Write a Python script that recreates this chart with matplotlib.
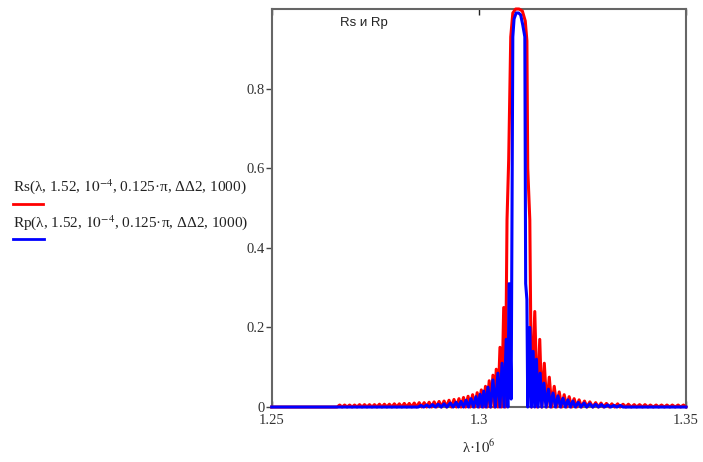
import matplotlib
matplotlib.use("Agg")
import matplotlib.pyplot as plt
from matplotlib.lines import Line2D

plt.rcParams['font.family'] = ['Liberation Serif', 'DejaVu Serif']
plt.rcParams['mathtext.fontset'] = 'stix'

# wavelength (x 10^6) and reflectance values
rs_lam = [1.2500, 1.2658, 1.2664, 1.2670, 1.2676, 1.2682, 1.2688, 1.2694, 1.2700, 1.2706,
          1.2712, 1.2718, 1.2724, 1.2730, 1.2736, 1.2742, 1.2748, 1.2754, 1.2760, 1.2766,
          1.2772, 1.2778, 1.2784, 1.2790, 1.2796, 1.2802, 1.2808, 1.2814, 1.2820, 1.2826,
          1.2832, 1.2838, 1.2844, 1.2850, 1.2856, 1.2862, 1.2868, 1.2874, 1.2880, 1.2886,
          1.2892, 1.2898, 1.2904, 1.2910, 1.2916, 1.2922, 1.2928, 1.2934, 1.2940, 1.2946,
          1.2952, 1.2957, 1.2963, 1.2968, 1.2974, 1.2979, 1.2985, 1.2990, 1.2996, 1.3001,
          1.3006, 1.3011, 1.3016, 1.3020, 1.3025, 1.3029, 1.3034, 1.3038, 1.3042, 1.3046,
          1.3051, 1.3055, 1.3060, 1.3064,
          1.3068, 1.3072, 1.3077, 1.3082, 1.3089, 1.3097, 1.3105, 1.3112, 1.3116, 1.3118,
          1.3123, 1.3127,
          1.3135, 1.3141, 1.3147, 1.3152, 1.3158, 1.3164, 1.3170, 1.3176, 1.3182, 1.3188,
          1.3194, 1.3200, 1.3206, 1.3212, 1.3218, 1.3224, 1.3230, 1.3236, 1.3242, 1.3248,
          1.3255, 1.3261, 1.3268, 1.3275, 1.3282, 1.3288, 1.3295, 1.3301, 1.3308, 1.3315,
          1.3321, 1.3328, 1.3335, 1.3341, 1.3348, 1.3355, 1.3361, 1.3368, 1.3375, 1.3381,
          1.3388, 1.3395, 1.3401, 1.3408, 1.3414, 1.3421, 1.3428, 1.3434, 1.3441, 1.3448,
          1.3454, 1.3461, 1.3467, 1.3474, 1.3481, 1.3487, 1.3494, 1.3500]
rs_val = [0, 0, 0.005, 0, 0.005, 0, 0.005, 0, 0.005, 0,
          0.006, 0, 0.006, 0, 0.006, 0, 0.006, 0, 0.007, 0,
          0.007, 0, 0.007, 0, 0.008, 0, 0.008, 0, 0.009, 0,
          0.009, 0, 0.010, 0, 0.011, 0, 0.011, 0, 0.012, 0,
          0.013, 0, 0.014, 0, 0.015, 0, 0.017, 0, 0.019, 0,
          0.021, 0, 0.024, 0, 0.027, 0, 0.031, 0, 0.036, 0,
          0.043, 0, 0.052, 0, 0.066, 0, 0.080, 0, 0.095, 0,
          0.15, 0, 0.25, 0,
          0.47, 0.62, 0.93, 0.99, 1.0, 1.0, 0.995, 0.97, 0.92, 0.6,
          0.47, 0,
          0.24, 0, 0.17, 0, 0.11, 0, 0.075, 0, 0.052, 0,
          0.038, 0, 0.031, 0, 0.026, 0, 0.021, 0, 0.018, 0,
          0.015, 0, 0.013, 0, 0.011, 0, 0.010, 0, 0.009, 0,
          0.008, 0, 0.008, 0, 0.007, 0, 0.007, 0, 0.006, 0,
          0.006, 0, 0.006, 0, 0.005, 0, 0.005, 0, 0.005, 0,
          0.005, 0, 0.005, 0, 0.005, 0, 0.005, 0]

rp_lam = [1.2500, 1.2854, 1.2860, 1.2867, 1.2874, 1.2881, 1.2888, 1.2895, 1.2902, 1.2909,
          1.2916, 1.2923, 1.2931, 1.2938, 1.2945, 1.2951, 1.2957, 1.2963, 1.2969, 1.2975,
          1.2981, 1.2987, 1.2993, 1.2998, 1.3003, 1.3008, 1.3012, 1.3017, 1.3022, 1.3028,
          1.3034, 1.3040, 1.3046, 1.3051, 1.3056, 1.3061, 1.3066, 1.3070, 1.3073, 1.3078,
          1.3082, 1.3085, 1.3090, 1.3096, 1.3101, 1.3106, 1.3111, 1.3113, 1.3116, 1.3118,
          1.3123, 1.3127, 1.3131, 1.3135, 1.3139, 1.3143, 1.3148, 1.3152, 1.3157, 1.3162,
          1.3168, 1.3173, 1.3179, 1.3185, 1.3191, 1.3197, 1.3203, 1.3209, 1.3215, 1.3221,
          1.3227, 1.3233, 1.3240, 1.3246, 1.3254, 1.3260, 1.3268, 1.3275, 1.3282, 1.3289,
          1.3296, 1.3303, 1.3311, 1.3318, 1.3326, 1.3333, 1.3341, 1.3348, 1.3500]
rp_val = [0, 0, 0.004, 0, 0.005, 0, 0.006, 0, 0.007, 0,
          0.008, 0, 0.010, 0, 0.012, 0, 0.014, 0, 0.017, 0,
          0.021, 0, 0.026, 0, 0.032, 0, 0.040, 0, 0.050, 0,
          0.068, 0, 0.085, 0, 0.11, 0, 0.17, 0, 0.31, 0.02,
          0.93, 0.975, 0.99, 0.99, 0.985, 0.96, 0.93, 0.31, 0.27, 0,
          0.20, 0, 0.14, 0, 0.12, 0, 0.085, 0, 0.060, 0,
          0.045, 0, 0.035, 0, 0.028, 0, 0.022, 0, 0.018, 0,
          0.015, 0, 0.012, 0, 0.010, 0, 0.008, 0, 0.007, 0,
          0.006, 0, 0.005, 0, 0.004, 0, 0.004, 0, 0]

x_ticks = [1.25, 1.3, 1.35]
x_tick_labels = ["1.25", "1.3", "1.35"]
y_ticks = [0, 0.2, 0.4, 0.6, 0.8]
y_tick_labels = ["0", "0.2", "0.4", "0.6", "0.8"]

fig = plt.figure(figsize=(7.03, 4.62), dpi=100)
ax = fig.add_axes([0.3865, 0.119, 0.5893, 0.8615])

ax.plot(rs_lam, rs_val, color='#ff0000', lw=2.2, clip_on=False, zorder=3)
ax.plot(rp_lam, rp_val, color='#0000ff', lw=2.2, clip_on=False, zorder=4)

ax.set_xlim(1.25, 1.35)
ax.set_ylim(0, 1.0)
ax.set_xticks(x_ticks)
ax.set_xticklabels(x_tick_labels)
ax.set_yticks(y_ticks)
ax.set_yticklabels(y_tick_labels)

for s in ax.spines.values():
    s.set_color('#666666')
    s.set_linewidth(1.5)

ax.tick_params(axis='y', direction='out', length=4, width=1, color='#444444',
               labelsize=10.5, pad=1, labelcolor='#333333')
ax.tick_params(axis='x', direction='in', length=4, width=1, color='#222222',
               top=True, labelsize=10.5, pad=5, labelcolor='#333333')

ax.set_xlabel(r"λ·$10^{6}$", fontsize=10.5, labelpad=8, color='#222222')

ax.text(0.165, 0.965, "Rs и Rp", transform=ax.transAxes, fontsize=9.5,
        family=['Liberation Sans', 'DejaVu Sans'], va='center', ha='left', color='#222222')

# legend-like labels on the left
fig.text(13 / 703, 1 - 187 / 462, r"Rs(λ, 1.52, $10^{-4}$, 0.125·π, ΔΔ2, 1000)",
         fontsize=11, va='center', ha='left', color='#222222')
fig.text(13 / 703, 1 - 223 / 462, r"Rp(λ, 1.52, $10^{-4}$, 0.125·π, ΔΔ2, 1000)",
         fontsize=11, va='center', ha='left', color='#222222')
fig.add_artist(Line2D([13 / 703, 43 / 703], [1 - 204 / 462, 1 - 204 / 462],
                      color='#ff0000', lw=2, transform=fig.transFigure))
fig.add_artist(Line2D([13 / 703, 44 / 703], [1 - 239 / 462, 1 - 239 / 462],
                      color='#0000ff', lw=2, transform=fig.transFigure))

fig.savefig("out.png", dpi=100)
